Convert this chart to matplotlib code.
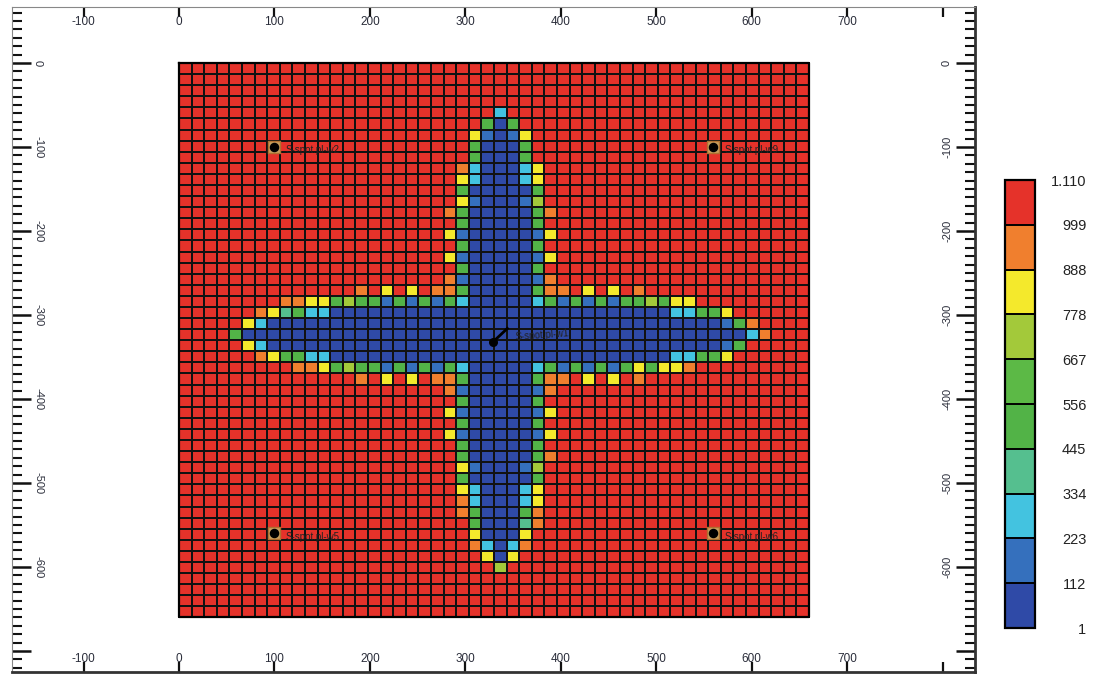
import matplotlib
matplotlib.use("Agg")
import matplotlib.pyplot as plt
import numpy as np
from matplotlib.colors import ListedColormap, BoundaryNorm

plt.rcParams['font.family'] = ['Liberation Sans', 'DejaVu Sans']

# 色标分级及颜色
levels = [1, 112, 223, 334, 445, 556, 667, 778, 888, 999, 1110]
level_labels = ["1", "112", "223", "334", "445", "556", "667", "778", "888", "999", "1.110"]
level_colors = ["#2f4aa7", "#3570bd", "#43c3e0", "#55bf8f", "#52b347",
                "#5cb946", "#a3c93a", "#f4e92c", "#f07f2e", "#e5322a"]

# 每个网格代码对应的数值
class_value = {"D": 56, "B": 167, "C": 278, "T": 390, "G": 500,
               "L": 722, "Y": 833, "O": 944, "R": 1055}

# 50 x 50 网格，每行按 10 格分组
grid_rows = [
    "RRRRRRRRRR RRRRRRRRRR RRRRRRRRRR RRRRRRRRRR RRRRRRRRRR",  # 0
    "RRRRRRRRRR RRRRRRRRRR RRRRRRRRRR RRRRRRRRRR RRRRRRRRRR",
    "RRRRRRRRRR RRRRRRRRRR RRRRRRRRRR RRRRRRRRRR RRRRRRRRRR",
    "RRRRRRRRRR RRRRRRRRRR RRRRRRRRRR RRRRRRRRRR RRRRRRRRRR",
    "RRRRRRRRRR RRRRRRRRRR RRRRRCRRRR RRRRRRRRRR RRRRRRRRRR",
    "RRRRRRRRRR RRRRRRRRRR RRRRGDGRRR RRRRRRRRRR RRRRRRRRRR",  # 5
    "RRRRRRRRRR RRRRRRRRRR RRRYBDBYRR RRRRRRRRRR RRRRRRRRRR",
    "RRRRRRRRRR RRRRRRRRRR RRRGDDDGRR RRRRRRRRRR RRRRRRRRRR",
    "RRRRRRRRRR RRRRRRRRRR RRRGDDDGRR RRRRRRRRRR RRRRRRRRRR",
    "RRRRRRRRRR RRRRRRRRRR RROCDDDCYR RRRRRRRRRR RRRRRRRRRR",
    "RRRRRRRRRR RRRRRRRRRR RRYCDDDCYR RRRRRRRRRR RRRRRRRRRR",  # 10
    "RRRRRRRRRR RRRRRRRRRR RRGDDDDDGR RRRRRRRRRR RRRRRRRRRR",
    "RRRRRRRRRR RRRRRRRRRR RRYBDDDBLR RRRRRRRRRR RRRRRRRRRR",
    "RRRRRRRRRR RRRRRRRRRR ROGDDDDDGO RRRRRRRRRR RRRRRRRRRR",
    "RRRRRRRRRR RRRRRRRRRR RRGDDDDDGR RRRRRRRRRR RRRRRRRRRR",
    "RRRRRRRRRR RRRRRRRRRR RYBDDDDDBY RRRRRRRRRR RRRRRRRRRR",  # 15
    "RRRRRRRRRR RRRRRRRRRR RRGDDDDDGR RRRRRRRRRR RRRRRRRRRR",
    "RRRRRRRRRR RRRRRRRRRR RYBDDDDDBY RRRRRRRRRR RRRRRRRRRR",
    "RRRRRRRRRR RRRRRRRRRR RRGDDDDDGR RRRRRRRRRR RRRRRRRRRR",
    "RRRRRRRRRR RRRRRRRRRR ROBDDDDDBO RRRRRRRRRR RRRRRRRRRR",
    "RRRRRRRRRR RRRRORYRYR OOGDDDDDGO ORYRYRORRR RRRRRRRRRR",  # 20
    "RRRRRRRROO YYGLGGBGBG BGCDDDDDCG BGBGBGGLGY YRRRRRRRRR",
    "RRRRRROYTG CCDDDDDDDD DDDDDDDDDD DDDDDDDDDC CGGYRRRRRR",
    "RRRRRYCDDD DDDDDDDDDD DDDDDDDDDD DDDDDDDDDD DDDBGORRRR",
    "RRRRGDDDDD DDDDDDDDDD DDDDDDDDDD DDDDDDDDDD DDDDDCORRR",
    "RRRRRYCDDD DDDDDDDDDD DDDDDDDDDD DDDDDDDDDD DDDBGRRRRR",  # 25
    "RRRRRROYGG CCDDDDDDDD DDDDDDDDDD DDDDDDDDDC CGGYRRRRRR",
    "RRRRRRRRRO OYGLGGBGBG BGCDDDDDCG BGBGBGYGYY ORRRRRRRRR",
    "RRRRRRRRRR RRRRORYRYR OOGDDDDDGO ORYRYRORRR RRRRRRRRRR",
    "RRRRRRRRRR RRRRRRRRRR ROBDDDDDBO RRRRRRRRRR RRRRRRRRRR",
    "RRRRRRRRRR RRRRRRRRRR RRGDDDDDGR RRRRRRRRRR RRRRRRRRRR",  # 30
    "RRRRRRRRRR RRRRRRRRRR RYBDDDDDBY RRRRRRRRRR RRRRRRRRRR",
    "RRRRRRRRRR RRRRRRRRRR RRGDDDDDGR RRRRRRRRRR RRRRRRRRRR",
    "RRRRRRRRRR RRRRRRRRRR RYBDDDDDBY RRRRRRRRRR RRRRRRRRRR",
    "RRRRRRRRRR RRRRRRRRRR RRGDDDDDGR RRRRRRRRRR RRRRRRRRRR",
    "RRRRRRRRRR RRRRRRRRRR RRGDDDDDGO RRRRRRRRRR RRRRRRRRRR",  # 35
    "RRRRRRRRRR RRRRRRRRRR RRYBDDDBLR RRRRRRRRRR RRRRRRRRRR",
    "RRRRRRRRRR RRRRRRRRRR RRGDDDDDGR RRRRRRRRRR RRRRRRRRRR",
    "RRRRRRRRRR RRRRRRRRRR RRYCDDDCYR RRRRRRRRRR RRRRRRRRRR",
    "RRRRRRRRRR RRRRRRRRRR RROCDDDCYR RRRRRRRRRR RRRRRRRRRR",
    "RRRRRRRRRR RRRRRRRRRR RROGDDDGOR RRRRRRRRRR RRRRRRRRRR",  # 40
    "RRRRRRRRRR RRRRRRRRRR RRRGDDDTOR RRRRRRRRRR RRRRRRRRRR",
    "RRRRRRRRRR RRRRRRRRRR RRRYDDDYRR RRRRRRRRRR RRRRRRRRRR",
    "RRRRRRRRRR RRRRRRRRRR RRROCDCORR RRRRRRRRRR RRRRRRRRRR",
    "RRRRRRRRRR RRRRRRRRRR RRRRYDYRRR RRRRRRRRRR RRRRRRRRRR",
    "RRRRRRRRRR RRRRRRRRRR RRRRRLRRRR RRRRRRRRRR RRRRRRRRRR",  # 45
    "RRRRRRRRRR RRRRRRRRRR RRRRRRRRRR RRRRRRRRRR RRRRRRRRRR",
    "RRRRRRRRRR RRRRRRRRRR RRRRRRRRRR RRRRRRRRRR RRRRRRRRRR",
    "RRRRRRRRRR RRRRRRRRRR RRRRRRRRRR RRRRRRRRRR RRRRRRRRRR",
    "RRRRRRRRRR RRRRRRRRRR RRRRRRRRRR RRRRRRRRRR RRRRRRRRRR",
]

# 网格范围 (x: 0~660, y: 0~-660)
grid_size = 660

# 井位
well_names = ["S-spot.pl-w2", "S-spot.pl-w9", "S-spot.pl-w5", "S-spot.pl-w6"]
well_x = [100, 560, 100, 560]
well_y = [-100, -100, -560, -560]
center_well_name = "S-spot.pl-w1"
center_well_x = [329, 344]
center_well_y = [-332, -316]

x_ticks = [-100, 0, 100, 200, 300, 400, 500, 600, 700, 800]
y_ticks = [0, -100, -200, -300, -400, -500, -600, -700]

# 把代码转换成数值矩阵
values = np.array([[class_value[c] for c in row.replace(" ", "")] for row in grid_rows], dtype=float)
nrow, ncol = values.shape
x_edges = np.linspace(0, grid_size, ncol + 1)
y_edges = np.linspace(0, -grid_size, nrow + 1)

cmap = ListedColormap(level_colors)
norm = BoundaryNorm(levels, cmap.N)

fig = plt.figure(figsize=(10.93, 6.75), dpi=100)
ax = fig.add_axes([12 / 1093, 3 / 675, 963 / 1093, 665 / 675])

mesh = ax.pcolormesh(x_edges, y_edges, values, cmap=cmap, norm=norm,
                     edgecolors="#121212", linewidth=1.3)
# 网格外框
ax.plot([0, grid_size, grid_size, 0, 0], [0, 0, -grid_size, -grid_size, 0],
        color="black", linewidth=1.6)

# 井点
ax.scatter(well_x, well_y, s=70, marker="s", facecolor="#c8a060", edgecolor="#b07030", zorder=4)
ax.scatter(well_x, well_y, s=34, marker="o", color="black", zorder=5)
for name, x, y in zip(well_names, well_x, well_y):
    ax.text(x + 12, y - 4, name, fontsize=7, color="#222222", va="center", ha="left", zorder=5)

ax.plot(center_well_x, center_well_y, color="black", linewidth=2, zorder=5)
ax.scatter(center_well_x[:1], center_well_y[:1], s=30, color="black", zorder=5)
ax.text(center_well_x[1] + 8, center_well_y[1] - 8, center_well_name, fontsize=7,
        color="#222222", va="center", ha="left", rotation=4, zorder=5)

ax.set_xlim(-175, 834)
ax.set_ylim(-725, 66.7)

# 坐标轴刻度（标签画在框内）
ax.set_xticks(x_ticks)
ax.set_yticks(y_ticks)
ax.set_yticks(np.arange(-720, 61, 10), minor=True)
ax.tick_params(axis="x", which="major", direction="in", top=True, bottom=True,
               labeltop=False, labelbottom=False, length=7, width=1.6, color="#111111")
ax.tick_params(axis="y", which="major", direction="in", left=True, right=True,
               labelleft=False, labelright=False, length=14, width=1.8, color="#111111")
ax.tick_params(axis="y", which="minor", direction="in", left=True, right=True,
               length=7, width=1.5, color="#111111")

label_color = "#2a2d3a"
for xt in x_ticks[:-1]:
    ax.text(xt, 0.977, str(xt), transform=ax.get_xaxis_transform(), fontsize=8.5,
            color=label_color, ha="center", va="center")
    ax.text(xt, 0.0195, str(xt), transform=ax.get_xaxis_transform(), fontsize=8.5,
            color=label_color, ha="center", va="center")
for yt in y_ticks[:-1]:
    ax.text(0.027, yt, str(yt), transform=ax.get_yaxis_transform(), fontsize=8,
            color=label_color, ha="center", va="center", rotation=-90)
    ax.text(0.971, yt, str(yt), transform=ax.get_yaxis_transform(), fontsize=8,
            color=label_color, ha="center", va="center", rotation=90)

for side in ["top", "left"]:
    ax.spines[side].set_linewidth(0.8)
    ax.spines[side].set_color("#888888")
for side in ["bottom", "right"]:
    ax.spines[side].set_linewidth(2)
    ax.spines[side].set_color("#333333")

# 色标
cax = fig.add_axes([1005 / 1093, 47 / 675, 30 / 1093, 448 / 675])
cbar = fig.colorbar(mesh, cax=cax, ticks=levels, drawedges=True)
cbar.ax.set_yticklabels(level_labels)
cbar.outline.set_linewidth(1.6)
cbar.dividers.set_linewidth(1.4)
cbar.ax.tick_params(length=0, pad=37, labelsize=10.5, labelcolor="#222222")
for lbl in cbar.ax.get_yticklabels():
    lbl.set_horizontalalignment("right")

fig.savefig("out.png", dpi=100)
